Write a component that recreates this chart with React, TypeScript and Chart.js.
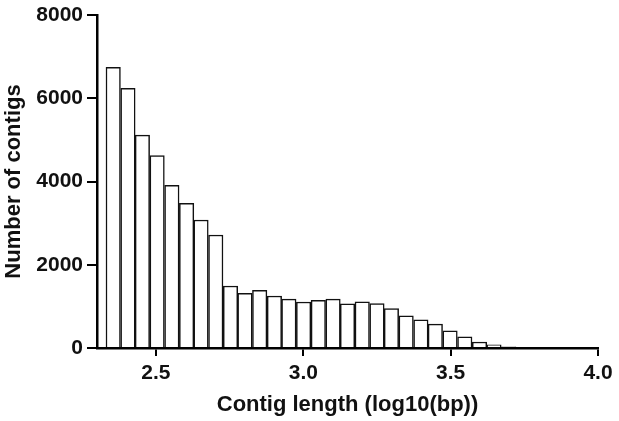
import React, { useEffect, useRef } from "react";
import { Chart, registerables } from "chart.js";

Chart.register(...registerables);

// Bin centres (log10 of contig length in bp)
const binCenters = [
  2.355, 2.405, 2.454, 2.504, 2.554, 2.604, 2.653, 2.703, 2.753, 2.802,
  2.852, 2.902, 2.951, 3.001, 3.051, 3.101, 3.150, 3.200, 3.250, 3.299,
  3.349, 3.399, 3.448, 3.498, 3.548, 3.598, 3.647, 3.697,
];

// Number of contigs per bin
const counts = [
  6740, 6240, 5115, 4620, 3905, 3475, 3075, 2715, 1490, 1315,
  1385, 1250, 1175, 1105, 1145, 1175, 1060, 1110, 1065, 945,
  775, 675, 575, 410, 270, 145, 75, 30,
];

const xTicks = [2.5, 3.0, 3.5, 4.0];
const yTicks = [0, 2000, 4000, 6000, 8000];

const X_MIN = 2.3;
const X_MAX = 4.0;
const Y_MIN = 0;
const Y_MAX = 8000;

const FONT_FAMILY = "'Liberation Sans', Arial, sans-serif";

export default function App() {
  const canvasRef = useRef<HTMLCanvasElement | null>(null);

  useEffect(() => {
    document.body.style.margin = "0";
    const canvas = canvasRef.current;
    if (!canvas) return;

    const chart = new Chart(canvas, {
      type: "bar",
      data: {
        datasets: [
          {
            data: binCenters.map((x, i) => ({ x, y: counts[i] })),
            backgroundColor: "#ffffff",
            borderColor: "#111111",
            borderWidth: 1.5,
            barPercentage: 1,
            categoryPercentage: 1,
          },
        ],
      },
      options: {
        responsive: false,
        animation: false,
        layout: { padding: { top: 15, right: 21, left: 0, bottom: 0 } },
        plugins: {
          legend: { display: false },
          tooltip: { enabled: false },
        },
        scales: {
          x: {
            type: "linear",
            min: X_MIN,
            max: X_MAX,
            offset: false,
            afterBuildTicks: (scale: any) => {
              scale.ticks = xTicks.map((v) => ({ value: v }));
            },
            afterFit: (scale: any) => {
              scale.height = 73;
              scale.paddingLeft = 0;
              scale.paddingRight = 0;
            },
            grid: {
              display: true,
              offset: false,
              drawOnChartArea: false,
              drawTicks: true,
              tickLength: 8,
              color: "#000000",
              lineWidth: 2,
            },
            border: { display: true, color: "#000000", width: 2.5 },
            ticks: {
              autoSkip: false,
              maxRotation: 0,
              padding: 5,
              color: "#111111",
              font: { family: FONT_FAMILY, size: 21, weight: "bold" },
              callback: (v: any) => Number(v).toFixed(1),
            },
            title: {
              display: true,
              text: "Contig length (log10(bp))",
              color: "#111111",
              font: { family: FONT_FAMILY, size: 22, weight: "bold" },
              padding: { top: 0, bottom: 3 },
            },
          },
          y: {
            type: "linear",
            min: Y_MIN,
            max: Y_MAX,
            afterBuildTicks: (scale: any) => {
              scale.ticks = yTicks.map((v) => ({ value: v }));
            },
            afterFit: (scale: any) => {
              scale.width = 97;
              scale.paddingTop = 0;
              scale.paddingBottom = 0;
            },
            grid: {
              display: true,
              offset: false,
              drawOnChartArea: false,
              drawTicks: true,
              tickLength: 10,
              color: "#000000",
              lineWidth: 2,
            },
            border: { display: true, color: "#000000", width: 2.5 },
            ticks: {
              padding: 4,
              color: "#111111",
              font: { family: FONT_FAMILY, size: 21, weight: "bold" },
              callback: (v: any) => String(v),
            },
            title: {
              display: true,
              text: "Number of contigs",
              color: "#111111",
              font: { family: FONT_FAMILY, size: 22, weight: "bold" },
              padding: { top: 1, bottom: 0 },
            },
          },
        },
      },
    });

    return () => chart.destroy();
  }, []);

  return (
    <div style={{ position: "absolute", left: 0, top: 0, width: 619, height: 421 }}>
      <canvas ref={canvasRef} width={619} height={421} style={{ display: "block" }} />
    </div>
  );
}
